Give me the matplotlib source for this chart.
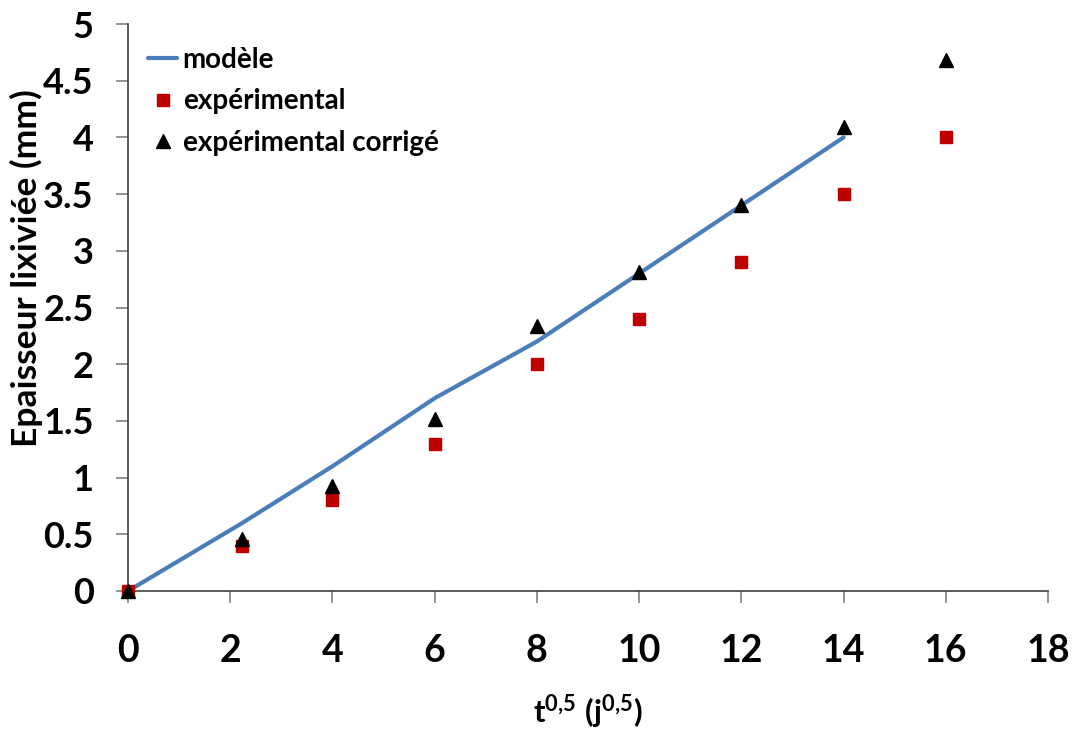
import matplotlib
matplotlib.use("Agg")
import matplotlib.pyplot as plt

# Data
x_model = [0, 2.236, 4, 6, 8, 10, 12, 14]
y_model = [0, 0.6, 1.1, 1.7, 2.2, 2.8, 3.4, 4.0]
x_exp = [0, 2.236, 4, 6, 8, 10, 12, 14, 16]
y_exp = [0, 0.40, 0.80, 1.30, 2.00, 2.40, 2.90, 3.50, 4.00]
y_corr = [0, 0.46, 0.93, 1.52, 2.34, 2.81, 3.40, 4.09, 4.68]
x_ticks = [0, 2, 4, 6, 8, 10, 12, 14, 16, 18]
y_ticks = [0, 0.5, 1, 1.5, 2, 2.5, 3, 3.5, 4, 4.5, 5]
y_tick_labels = ["0", "0.5", "1", "1.5", "2", "2.5", "3", "3.5", "4", "4.5", "5"]

plt.rcParams['font.family'] = ['Lato', 'DejaVu Sans']
plt.rcParams['font.weight'] = 'bold'
plt.rcParams['mathtext.fontset'] = 'custom'
plt.rcParams['mathtext.rm'] = 'Lato:bold'
plt.rcParams['mathtext.it'] = 'Lato:bold'
plt.rcParams['mathtext.bf'] = 'Lato:bold'

W, H = 1081, 735
fig = plt.figure(figsize=(W / 100, H / 100), dpi=100)
ax = fig.add_axes([128 / W, 1 - 591 / H, (1048 - 128) / W, (591 - 24) / H])

ax.plot(x_model, y_model, color='#4A7EBB', lw=3.0, label='modèle', zorder=2,
        solid_capstyle='round')
ax.plot(x_exp, y_exp, ls='none', marker='s', ms=8.6, color='#C00000',
        label='expérimental', zorder=3, clip_on=False)
ax.plot(x_exp, y_corr, ls='none', marker='^', ms=10, color='black',
        label='expérimental corrigé', zorder=4, clip_on=False)

ax.set_xlim(0, 18)
ax.set_ylim(0, 5)
ax.set_xticks(x_ticks)
ax.set_yticks(y_ticks)
ax.set_yticklabels(y_tick_labels)

for s in ['top', 'right']:
    ax.spines[s].set_visible(False)
for s in ['left', 'bottom']:
    ax.spines[s].set_color('#404040')
    ax.spines[s].set_linewidth(1.2)

ax.tick_params(axis='x', direction='out', length=8.6, width=1.2, color='#808080',
               labelsize=27, pad=22)
ax.tick_params(axis='y', direction='out', length=8.6, width=1.2, color='#808080',
               labelsize=26, pad=16)
for lab in ax.get_xticklabels() + ax.get_yticklabels():
    lab.set_fontweight('bold')

fig.text(26 / W, 1 - 268 / H, 'Epaisseur lixiviée (mm)', rotation=90,
         ha='center', va='center', fontsize=25.5, fontweight='bold')
fig.text(588 / W, 1 - 712 / H, r'$\mathrm{t}^{0{,}5}\ (\mathrm{j}^{0{,}5})$',
         ha='center', va='center', fontsize=22.5)

leg = ax.legend(loc='upper left', bbox_to_anchor=(148 / W, 1 - 47 / H),
                bbox_transform=fig.transFigure, frameon=False,
                prop={'size': 20, 'weight': 'bold'}, handlelength=1.05,
                handletextpad=0.2, labelspacing=0.55, borderaxespad=0,
                borderpad=0)

fig.savefig('out.png', dpi=100)
